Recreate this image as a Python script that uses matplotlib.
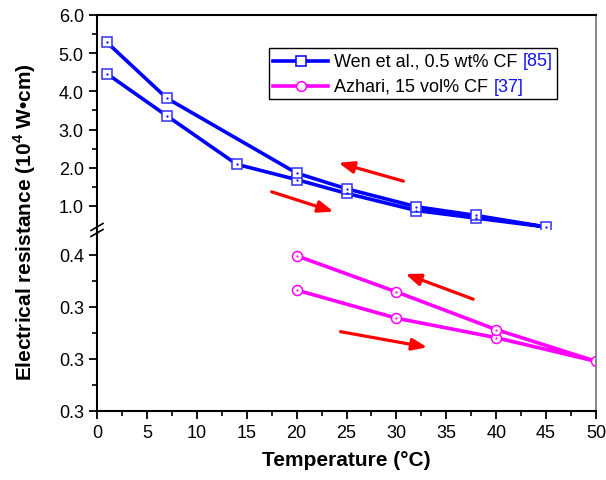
import matplotlib
matplotlib.use("Agg")
import matplotlib.pyplot as plt
from matplotlib.lines import Line2D
from matplotlib.offsetbox import AnchoredOffsetbox, HPacker, VPacker, TextArea, DrawingArea
from matplotlib.ticker import MultipleLocator, FixedLocator, FormatStrFormatter

plt.rcParams['font.family'] = ['Liberation Sans', 'DejaVu Sans']
plt.rcParams['mathtext.fontset'] = 'custom'
plt.rcParams['mathtext.rm'] = 'Liberation Sans'
plt.rcParams['mathtext.bf'] = 'Liberation Sans:bold'

# Wen et al. loop: heating (lower branch) then cooling (upper branch), 10^4 ohm cm
wen_temp = [1, 7, 14, 20, 25, 32, 38, 45, 38, 32, 25, 20, 7, 1]
wen_res = [4.46, 3.36, 2.09, 1.69, 1.33, 0.88, 0.68, 0.45,
           0.75, 0.98, 1.45, 1.86, 3.82, 5.28]

# Azhari loop
azh_temp = [20, 30, 40, 50, 40, 30, 20]
azh_res = [0.3465, 0.3357, 0.3282, 0.3191, 0.3313, 0.3458, 0.3597]

# direction arrows (tail, head) in data units
top_arrows = [((30.7, 1.65), (24.2, 2.13)), ((17.5, 1.37), (23.7, 0.85))]
bot_arrows = [((37.7, 0.3430), (30.9, 0.3527)), ((24.4, 0.3305), (33.1, 0.3245))]

legend_rows = [("Wen et al., 0.5 wt% CF", "[85]", "#0000FF", "s"),
               ("Azhari, 15 vol% CF", "[37]", "#FF00FF", "o")]

W, H = 606, 481
fig = plt.figure(figsize=(W / 100, H / 100), dpi=100)


def px(x0, y0, x1, y1):
    return [x0 / W, (H - y1) / H, (x1 - x0) / W, (y1 - y0) / H]


ax_top = fig.add_axes(px(97, 16, 596, 231))
ax_bot = fig.add_axes(px(97, 231, 596, 412))

blue, magenta = "#0000FF", "#FF00FF"
ax_top.plot(wen_temp, wen_res, color=blue, lw=2.6, marker='s', ms=6.8,
            mfc='white', mec='#3030FF', mew=1.1)
ax_top.plot(wen_temp, wen_res, ls='none', marker='.', ms=1.2, color=blue)
ax_bot.plot(azh_temp, azh_res, color=magenta, lw=2.6, marker='o', ms=7.2,
            mfc='white', mec=magenta, mew=1.1)
ax_bot.plot(azh_temp, azh_res, ls='none', marker='.', ms=1.2, color=magenta)

for ax in (ax_top, ax_bot):
    ax.set_xlim(0, 50)
    for s in ('left', 'bottom', 'top'):
        ax.spines[s].set_linewidth(1.5)
    ax.spines['right'].set_color('#7f7f7f')
    ax.spines['right'].set_linewidth(1.3)
    ax.tick_params(which='major', direction='out', length=6, width=1.3, labelsize=13)
    ax.tick_params(which='minor', direction='out', length=3.5, width=1.2)
    ax.tick_params(right=False, top=False, which='both')

ax_top.set_ylim(0.37, 6.0)
ax_top.yaxis.set_major_locator(FixedLocator([1, 2, 3, 4, 5, 6]))
ax_top.yaxis.set_minor_locator(FixedLocator([1.5, 2.5, 3.5, 4.5, 5.5]))
ax_top.yaxis.set_major_formatter(FormatStrFormatter('%.1f'))
ax_top.spines['bottom'].set_visible(False)
ax_top.tick_params(axis='x', which='both', bottom=False, labelbottom=False)

ax_bot.set_ylim(0.30, 0.3696)
ax_bot.yaxis.set_major_locator(FixedLocator([0.30, 0.32, 0.34, 0.36]))
ax_bot.yaxis.set_minor_locator(FixedLocator([0.31, 0.33, 0.35]))
ax_bot.yaxis.set_major_formatter(FormatStrFormatter('%.1f'))
ax_bot.spines['top'].set_visible(False)
ax_bot.xaxis.set_major_locator(MultipleLocator(5))
ax_bot.xaxis.set_minor_locator(MultipleLocator(2.5))
ax_bot.set_xlabel("Temperature (°C)", fontsize=15, fontweight='bold', labelpad=6)

for ax, arrows in ((ax_top, top_arrows), (ax_bot, bot_arrows)):
    for tail, head in arrows:
        ax.annotate("", xy=head, xytext=tail,
                    arrowprops=dict(arrowstyle='-|>,head_length=0.9,head_width=0.35',
                                    color='#FF0000', lw=2.3, shrinkA=0, shrinkB=0))

fig.text(25 / W, (H - 222) / H, r"Electrical resistance (10$^\mathbf{4}$ W•cm)",
         rotation=90, fontsize=15, fontweight='bold', ha='center', va='center')

# axis break marks on the left spine
for yc in (228, 234):
    fig.add_artist(Line2D([91 / W, 103 / W], [(H - yc - 3.5) / H, (H - yc + 3.5) / H],
                          transform=fig.transFigure, color='black', lw=1.2))

# legend with blue reference numbers
rows = []
for name, ref, col, mk in legend_rows:
    da = DrawingArea(40, 10, 0, 0)
    da.add_artist(Line2D([0, 40], [5, 5], color=col, lw=2.6))
    da.add_artist(Line2D([20], [5], marker=mk, ms=7 if mk == 'o' else 6.5,
                         mfc='white', mec=col, mew=1.1, color=col))
    t1 = TextArea(name, textprops=dict(size=13, color='black'))
    t2 = TextArea(ref, textprops=dict(size=13, color='#1010FF'))
    rows.append(HPacker(children=[da, HPacker(children=[t1, t2], pad=0, sep=4)],
                        align='center', pad=0, sep=4))
box = VPacker(children=rows, align='left', pad=2, sep=6)
leg = AnchoredOffsetbox(loc='upper right', child=box, pad=0.1, borderpad=0,
                        frameon=True, bbox_to_anchor=(0.922, 0.8465),
                        bbox_transform=ax_top.transAxes)
leg.patch.set_boxstyle("square,pad=0")
leg.patch.set_edgecolor('black')
leg.patch.set_linewidth(1.0)
ax_top.add_artist(leg)

fig.savefig("out.png", dpi=100)
